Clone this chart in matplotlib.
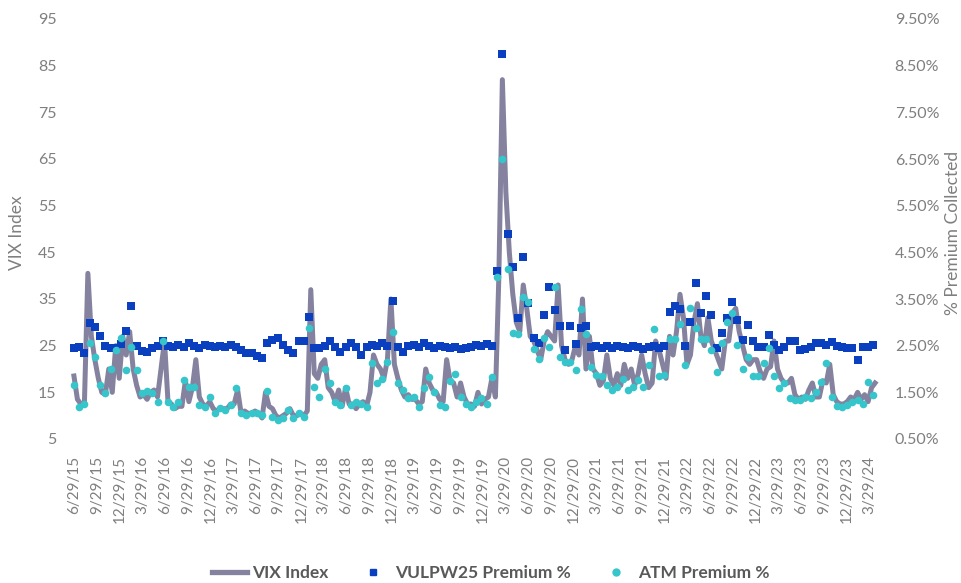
import matplotlib
matplotlib.use("Agg")
import matplotlib.pyplot as plt
from matplotlib.lines import Line2D
import pandas as pd

# VIX index, every two weeks starting 6/29/15
vix = [
    18.5, 13.5, 12.5, 12.5, 40.5, 27, 22, 18, 15, 14.5, 20, 15, 25, 18,
    27, 23, 28, 20, 16.5, 14, 14.5, 13.5, 15, 15.5, 14, 20, 26, 13, 12.5, 11.5, 12, 12, 17.5, 13, 16, 22, 14, 12.5, 12, 13,
    11.5, 11, 11.5, 11.5, 11.5, 12.5, 12.5, 15.5, 10.5, 11, 10.5, 10.5, 11, 10.5, 9.5, 15, 12, 11.5, 10, 9.5, 10, 10.5, 11.5, 10, 10, 10.5,
    10, 11, 37, 19, 18, 21, 22, 16, 15, 13, 15.5, 12, 16, 12.5, 12.5, 11.5, 12.5, 13, 12, 15, 23, 21, 20, 18, 22, 35,
    21, 18, 15.5, 14, 14.5, 13.5, 13.5, 12.5, 13, 20, 17, 15.5, 15, 13.5, 13, 22, 17.5, 17, 14, 17, 14, 12.5, 12.5, 12, 15, 12.5,
    13.5, 14, 18, 14, 40, 82, 58, 45, 36, 30, 28, 38, 33, 27, 26, 24, 22, 26, 28, 27, 26, 38, 25, 22, 21, 22,
    25, 23, 35, 20, 27, 20, 19, 16.5, 17.5, 23, 18, 16.5, 19, 16.5, 21, 18, 20, 16.5, 19, 23, 19, 16, 17, 26, 24, 21,
    18, 27, 23, 28, 36, 31, 21, 23, 30, 34, 27, 25, 31, 26, 24, 22, 20, 26, 26, 32, 33, 28, 25, 22, 21, 22,
    22, 19.5, 18, 20, 20.5, 26, 20, 18, 17, 17, 18, 14.5, 13.5, 14, 13.5, 15.5, 17, 14, 14, 17.5, 17, 21, 14.5, 13, 12.5, 12.5,
    13, 14, 13.5, 15, 13.5, 14.5, 13, 16, 17,
]

# premium collected (%), every three weeks starting 6/29/15
vulpw25 = [
    2.44, 2.47, 2.34, 2.99, 2.91, 2.71, 2.49, 2.44, 2.46, 2.53,
    2.82, 3.36, 2.49, 2.39, 2.37, 2.45, 2.50, 2.59, 2.50, 2.47,
    2.52, 2.48, 2.55, 2.50, 2.46, 2.52, 2.49, 2.47, 2.50, 2.48,
    2.51, 2.47, 2.40, 2.34, 2.34, 2.28, 2.23, 2.55, 2.62, 2.66,
    2.51, 2.41, 2.34, 2.59, 2.59, 3.12, 2.44, 2.45, 2.50, 2.60,
    2.47, 2.37, 2.48, 2.55, 2.48, 2.30, 2.47, 2.52, 2.50, 2.55,
    2.50, 3.46, 2.48, 2.37, 2.50, 2.52, 2.47, 2.55, 2.50, 2.46,
    2.50, 2.48, 2.44, 2.47, 2.42, 2.45, 2.48, 2.52, 2.50, 2.53,
    2.50, 4.10, 8.75, 4.90, 4.18, 3.09, 4.40, 3.42, 2.66, 2.55,
    3.16, 3.76, 3.26, 2.92, 2.41, 2.92, 2.54, 2.87, 2.92, 2.48,
    2.50, 2.45, 2.50, 2.46, 2.50, 2.47, 2.45, 2.50, 2.48, 2.43,
    2.47, 2.50, 2.46, 2.49, 3.23, 3.35, 3.28, 2.50, 3.01, 3.84,
    3.19, 3.56, 3.16, 2.44, 2.78, 3.09, 3.44, 3.05, 2.62, 2.94,
    2.59, 2.48, 2.47, 2.73, 2.51, 2.41, 2.47, 2.59, 2.59, 2.41,
    2.43, 2.48, 2.55, 2.55, 2.52, 2.57, 2.50, 2.48, 2.44, 2.46,
    2.19, 2.48, 2.47, 2.51,
]

atm = [
    1.66, 1.19, 1.26, 2.55, 2.26, 1.66, 1.48, 2.01, 2.41, 2.66,
    1.98, 2.48, 1.98, 1.48, 1.52, 1.48, 1.30, 2.59, 1.30, 1.19,
    1.30, 1.76, 1.62, 1.62, 1.23, 1.19, 1.41, 1.05, 1.16, 1.12,
    1.23, 1.59, 1.05, 1.01, 1.05, 1.05, 1.01, 1.52, 0.98, 0.91,
    0.94, 1.12, 0.94, 1.05, 0.98, 2.87, 1.62, 1.41, 2.01, 1.71,
    1.30, 1.23, 1.59, 1.23, 1.30, 1.26, 1.19, 2.12, 1.69, 1.79,
    2.16, 2.80, 1.69, 1.55, 1.37, 1.41, 1.19, 1.59, 1.83, 1.51,
    1.23, 1.19, 1.74, 1.89, 1.41, 1.26, 1.19, 1.30, 1.37, 1.26,
    1.83, 3.98, 6.50, 4.14, 2.78, 2.75, 3.55, 3.44, 2.42, 2.21,
    2.66, 2.48, 3.76, 2.25, 2.14, 2.14, 1.98, 3.28, 2.76, 2.05,
    1.87, 1.84, 1.66, 1.55, 1.62, 1.79, 1.55, 1.62, 1.76, 1.62,
    2.08, 2.85, 1.86, 1.87, 2.64, 2.64, 2.96, 2.08, 3.30, 2.87,
    2.64, 2.64, 2.41, 1.93, 2.55, 3.01, 3.19, 2.51, 2.01, 2.26,
    1.84, 1.84, 2.12, 2.44, 1.84, 1.60, 1.69, 1.37, 1.33, 1.33,
    1.41, 1.37, 1.51, 1.73, 2.12, 1.41, 1.21, 1.19, 1.23, 1.30,
    1.33, 1.26, 1.73, 1.44,
]

tick_labels = [
    "6/29/15", "9/29/15", "12/29/15", "3/29/16", "6/29/16", "9/29/16", "12/29/16",
    "3/29/17", "6/29/17", "9/29/17", "12/29/17", "3/29/18", "6/29/18", "9/29/18",
    "12/29/18", "3/29/19", "6/29/19", "9/29/19", "12/29/19", "3/29/20", "6/29/20",
    "9/29/20", "12/29/20", "3/29/21", "6/29/21", "9/29/21", "12/29/21", "3/29/22",
    "6/29/22", "9/29/22", "12/29/22", "3/29/23", "6/29/23", "9/29/23", "12/29/23",
    "3/29/24",
]

vix_dates = pd.date_range("2015-06-29", periods=len(vix), freq="14D")
prem_dates = pd.date_range("2015-06-29", periods=len(vulpw25), freq="21D")
tick_dates = pd.to_datetime(tick_labels, format="%m/%d/%y")

plt.rcParams["font.family"] = ["Lato", "DejaVu Sans"]
gray = "#7f7f7f"
line_col = "#84829f"
blue = "#0a40bf"
cyan = "#35c5cb"

fig = plt.figure(figsize=(9.62, 5.83), dpi=100)
ax = fig.add_axes([62 / 962, 1 - 439 / 583, 823 / 962, 420 / 583])
ax.plot(vix_dates, vix, color=line_col, lw=3.6, solid_joinstyle="round", zorder=2)

start = pd.Timestamp("2015-06-29") - pd.Timedelta(days=48)
ax.set_xlim(start, start + pd.Timedelta(days=3308))
ax.set_ylim(5, 95)
ax.set_yticks(range(5, 96, 10))
ax.set_xticks(tick_dates)
ax.set_xticklabels(tick_labels, rotation=90)
ax.tick_params(axis="y", length=0, labelsize=11.5, labelcolor=gray, pad=4)
ax.tick_params(axis="x", length=0, labelsize=11, labelcolor=gray, pad=12)

ax2 = ax.twinx()
ax2.scatter(prem_dates, vulpw25, marker="s", s=30, color=blue, linewidths=0, zorder=3)
ax2.scatter(prem_dates, atm, marker="o", s=30, color=cyan, linewidths=0, zorder=4)
ax2.set_ylim(0.5, 9.5)
ax2.set_yticks([0.5 + i for i in range(10)])
ax2.set_yticklabels([f"{0.5 + i:.2f}%" for i in range(10)])
ax2.tick_params(axis="y", length=0, labelsize=11.5, labelcolor=gray, pad=7)

for a in (ax, ax2):
    for s in a.spines.values():
        s.set_visible(False)

fig.text(17 / 962, 1 - 233 / 583, "VIX Index", rotation=90, ha="center", va="center",
         color=gray, fontsize=12.5)
fig.text(961 / 962, 1 - 233 / 583, "% Premium Collected", rotation=90, ha="right", va="center",
         color=gray, fontsize=12.5)

handles = [
    Line2D([], [], color=line_col, lw=3.8),
    Line2D([], [], color=blue, marker="s", ls="none", markersize=5),
    Line2D([], [], color=cyan, marker="o", ls="none", markersize=5),
]
leg = fig.legend(handles, ["VIX Index", "VULPW25 Premium %", "ATM Premium %"],
                 loc="lower center", bbox_to_anchor=(0.5104, -0.024), ncol=3, frameon=False,
                 handlelength=2.0, columnspacing=1.55, handletextpad=0.3,
                 prop={"weight": "bold", "size": 12.5})
for t in leg.get_texts():
    t.set_color("#595959")

fig.savefig("out.png", dpi=100)
